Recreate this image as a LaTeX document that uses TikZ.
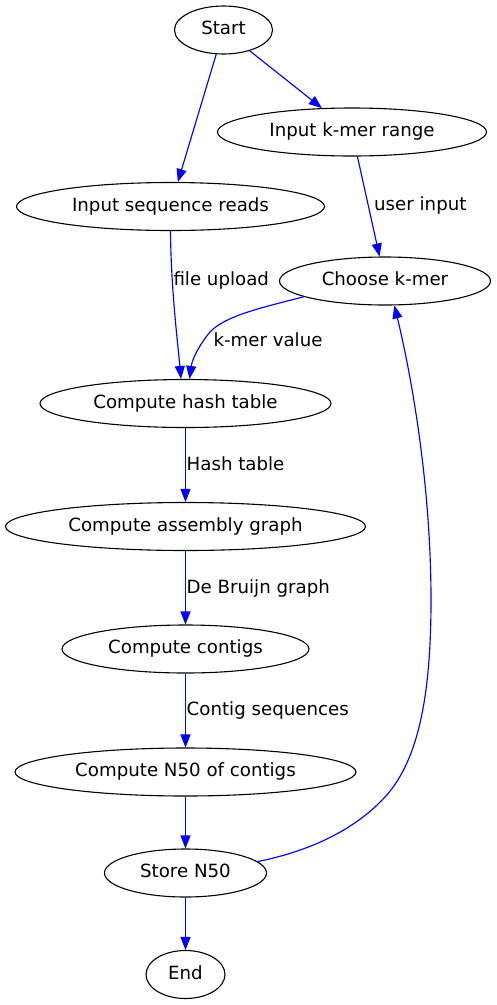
\documentclass[tikz,border=0pt]{standalone}
\usepackage{fontspec}
\setmainfont{DejaVu Sans}
\usepackage{tikz}
\usetikzlibrary{shapes.geometric,arrows.meta}

\begin{document}
\begin{tikzpicture}[x=1pt, y=-1pt,
	state/.style={draw, ellipse, line width=1.1pt, inner sep=0pt, minimum height=48pt,
		text height=13.5pt, text depth=4.3pt, font=\fontsize{18.2}{22}\selectfont},
	flow/.style={->, blue, line width=1.15pt},
	lbl/.style={anchor=base west, inner sep=0pt, font=\fontsize{18.2}{22}\selectfont},
	>={Triangle[length=13pt, width=10pt]}]
	\useasboundingbox (0,0) rectangle (496,1005);
			\node[state, minimum width=98pt] (start) at (223.5,30) {Start};
			\node[state, minimum width=269pt] (kmer) at (352,132) {Input k-mer range};
			\node[state, minimum width=308pt] (reads) at (170.5,206.5) {Input sequence reads};
			\node[state, minimum width=211pt] (choose) at (385,281) {Choose k-mer};
			\node[state, minimum width=291pt] (hash) at (185.5,403.5) {Compute hash table};
			\node[state, minimum width=360pt] (asm) at (185.5,526.5) {Compute assembly graph};
			\node[state, minimum width=247pt] (contigs) at (185.5,649) {Compute contigs};
			\node[state, minimum width=341pt] (nfifty) at (185.5,772) {Compute N50 of contigs};
			\node[state, minimum width=162pt] (store) at (185.5,873) {Store N50};
			\node[state, minimum width=79pt] (end) at (185.5,974.5) {End};
				\draw[flow] (start) -- (reads);
				\draw[flow] (start) -- (kmer);
				\draw[flow] (kmer) -- (choose);
				\draw[flow] (reads.south) .. controls (171,290) and (178,345) .. ([xshift=-4.5pt]hash.north);
				\draw[flow] (choose.191) .. controls (260,308) and (225,316) .. (210,332)
					.. controls (199,345) and (192,360) .. ([xshift=4pt]hash.north);
				\draw[flow] (hash) -- (asm);
				\draw[flow] (asm) -- (contigs);
				\draw[flow] (contigs) -- (nfifty);
				\draw[flow] (nfifty) -- (store);
				\draw[flow] (store) -- (end);
				\draw[flow] (store.9) .. controls (300,853) and (350,835) .. (385,797)
					.. controls (420,759) and (431,690) .. (431,600)
					.. controls (431,480) and (410,370) .. (choose.-69);
			\node[lbl] (userlbl) at (374,210.7) {user input};
			\node[lbl] (uploadlbl) at (173.3,285.7) {file upload};
			\node[lbl] (valuelbl) at (213.3,346.7) {k-mer value};
			\node[lbl] (hashlbl) at (186.5,470) {Hash table};
			\node[lbl] (graphlbl) at (186.5,593.3) {De Bruijn graph};
			\node[lbl] (seqlbl) at (186.5,715.7) {Contig sequences};
\end{tikzpicture}
\end{document}
